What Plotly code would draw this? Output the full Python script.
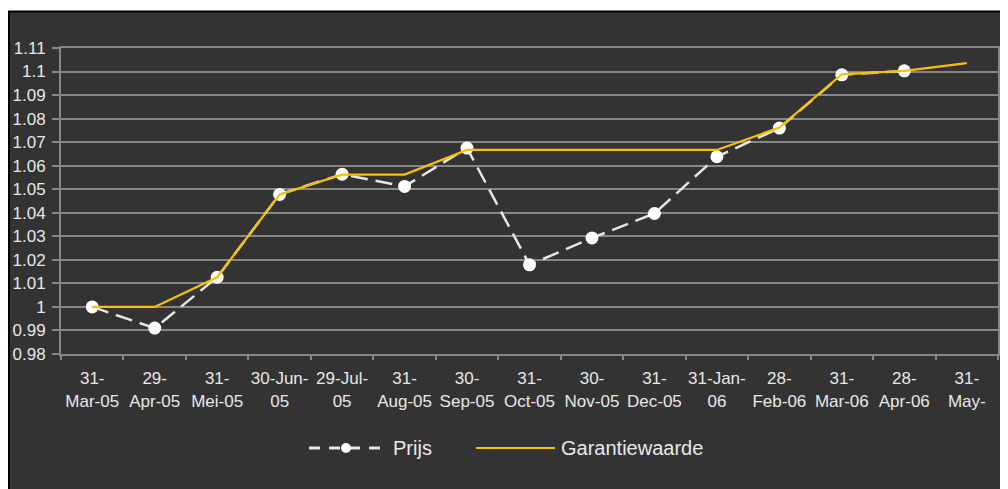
import plotly.graph_objects as go

categories = ["31-<br>Mar-05", "29-<br>Apr-05", "31-<br>Mei-05", "30-Jun-<br>05", "29-Jul-<br>05",
              "31-<br>Aug-05", "30-<br>Sep-05", "31-<br>Oct-05", "30-<br>Nov-05", "31-<br>Dec-05",
              "31-Jan-<br>06", "28-<br>Feb-06", "31-<br>Mar-06", "28-<br>Apr-06", "31-<br>May-"]

prijs = [1.000, 0.991, 1.0126, 1.0478, 1.0564, 1.0512, 1.0675, 1.0179, 1.0293, 1.0397,
         1.0638, 1.0760, 1.0986, 1.1003, None]
garantie = [1.000, 1.000, 1.0126, 1.0478, 1.0562, 1.0562, 1.0667, 1.0667, 1.0667, 1.0667,
            1.0667, 1.0762, 1.0988, 1.1003, 1.1036]

y_ticks = [0.98, 0.99, 1.00, 1.01, 1.02, 1.03, 1.04, 1.05, 1.06, 1.07, 1.08, 1.09, 1.10, 1.11]
y_ticktext = ["0.98", "0.99", "1", "1.01", "1.02", "1.03", "1.04", "1.05", "1.06", "1.07",
              "1.08", "1.09", "1.1", "1.11"]

series_names = ["Prijs", "Garantiewaarde"]

FONT = "Liberation Sans, Arial, sans-serif"
TXT = "#e8e8e8"
GRID = "#878787"
PRIJS_LINE = "#e6e6e6"
GAR_LINE = "#f7c000"

fig = go.Figure()
fig.add_trace(go.Scatter(
    x=categories, y=prijs, name=series_names[0], mode="lines+markers",
    line=dict(color=PRIJS_LINE, width=2.5, dash="17px,8px"),
    marker=dict(color="#ffffff", size=13, line=dict(width=0)),
    connectgaps=False, showlegend=False,
))
fig.add_trace(go.Scatter(
    x=categories, y=garantie, name=series_names[1], mode="lines",
    line=dict(color=GAR_LINE, width=2.2), showlegend=False,
))

OFF = 8  # page body margin offset
W, H = 1008, 489
L, T = 61 - OFF, 48 - OFF
R = W - (998 - OFF)
B = H - (354 - OFF)
pw, ph = W - L - R, H - T - B


def px_x(p):
    return (p - OFF - L) / pw


def px_y(p):
    return (H - B - (p - OFF)) / ph


shapes = [
    dict(type="rect", xref="paper", yref="paper", x0=px_x(9), x1=px_x(W + 20),
         y0=px_y(H + 20), y1=px_y(11.5), fillcolor="#333333",
         line=dict(color="#000000", width=2), layer="below"),
    # manual legend
    dict(type="line", xref="paper", yref="paper", x0=px_x(309), x1=px_x(384),
         y0=px_y(448), y1=px_y(448), line=dict(color=PRIJS_LINE, width=3, dash="11px,9px")),
    dict(type="circle", xref="paper", yref="paper", x0=px_x(341), x1=px_x(351),
         y0=px_y(453), y1=px_y(443), fillcolor="#ffffff", line=dict(width=0)),
    dict(type="line", xref="paper", yref="paper", x0=px_x(476), x1=px_x(555),
         y0=px_y(448), y1=px_y(448), line=dict(color=GAR_LINE, width=2.2)),
]
annotations = [
    dict(text=series_names[0], xref="paper", yref="paper", x=px_x(391), y=px_y(448),
         xanchor="left", yanchor="middle", showarrow=False, font=dict(size=20, color=TXT)),
    dict(text=series_names[1], xref="paper", yref="paper", x=px_x(559), y=px_y(448),
         xanchor="left", yanchor="middle", showarrow=False, font=dict(size=20, color=TXT)),
]

fig.update_layout(
    width=W, height=H,
    margin=dict(l=L, r=R, t=T, b=B),
    paper_bgcolor="#ffffff",
    plot_bgcolor="rgba(0,0,0,0)",
    font=dict(family=FONT, size=17, color=TXT),
    showlegend=False,
    shapes=shapes,
    annotations=annotations,
)
fig.update_xaxes(
    type="category", showgrid=False, showline=True, linecolor=GRID, linewidth=2,
    ticks="outside", tickson="boundaries", tickcolor=GRID, ticklen=4, tickwidth=2,
    mirror=True, tickfont=dict(size=17, color=TXT), range=[-0.5, 14.5], fixedrange=True,
    tickangle=0, automargin=False, ticklabelstandoff=8,
)
fig.update_yaxes(
    range=[0.98, 1.11], tickvals=y_ticks, ticktext=y_ticktext, showgrid=True,
    gridcolor=GRID, gridwidth=2, showline=True, linecolor=GRID, linewidth=2,
    ticks="outside", tickcolor=GRID, ticklen=7, tickwidth=2, mirror=True,
    zeroline=False, tickfont=dict(size=17, color=TXT), ticklabelstandoff=3,
    automargin=False,
)

fig.write_html("out.html")
